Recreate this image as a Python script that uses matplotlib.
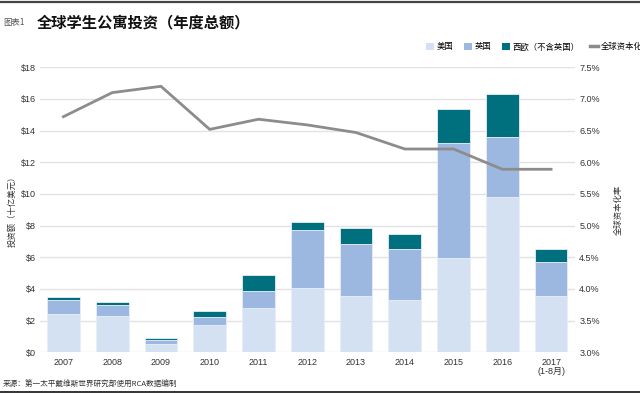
import matplotlib
matplotlib.use("Agg")
import matplotlib.pyplot as plt
import numpy as np
from matplotlib.patches import Patch
from matplotlib.lines import Line2D

plt.rcParams['font.family'] = ['Liberation Sans', 'Noto Sans CJK SC', 'DejaVu Sans']

years = ['2007', '2008', '2009', '2010', '2011', '2012', '2013', '2014', '2015', '2016', '2017\n(1-8月)']
us = [2.44, 2.31, 0.52, 1.74, 2.78, 4.08, 3.56, 3.32, 5.98, 9.81, 3.54]
uk = [0.86, 0.70, 0.26, 0.51, 1.09, 3.63, 3.30, 3.21, 7.22, 3.81, 2.15]
eu = [0.17, 0.17, 0.10, 0.36, 1.01, 0.50, 1.01, 0.94, 2.19, 2.68, 0.84]
cap_rate = [6.72, 7.10, 7.20, 6.52, 6.68, 6.59, 6.47, 6.21, 6.21, 5.89, 5.89]

series_names = ['美国', '英国', '西欧（不含英国）']
line_name = '全球资本化率'
c_us, c_uk, c_eu = '#d4e1f2', '#9db8e0', '#00707f'
c_line = '#8e8c8a'

fig = plt.figure(figsize=(6.4, 3.94), dpi=100)
ax = fig.add_axes([40/640, 1-352.3/394, (575-40)/640, (352.3-67.3)/394])
x = np.arange(len(years))
w = 0.67
us_a, uk_a, eu_a = np.array(us), np.array(uk), np.array(eu)
ax.bar(x, us_a, w, color=c_us, edgecolor='#e8eef7', linewidth=0.6, zorder=2)
ax.bar(x, uk_a, w, bottom=us_a, color=c_uk, edgecolor='#e8eef7', linewidth=0.6, zorder=2)
ax.bar(x, eu_a, w, bottom=us_a+uk_a, color=c_eu, edgecolor='#e8eef7', linewidth=0.6, zorder=2)
ax.set_xlim(-0.48, 10.49)
ax.set_ylim(0, 18)
ax.set_yticks(np.arange(0, 19, 2))
ax.set_yticklabels([f'${v}' for v in range(0, 19, 2)])
ax.grid(axis='y', color='#e2e2e2', linewidth=1.0, zorder=0)
ax.set_axisbelow(True)
for s in ax.spines.values():
    s.set_visible(False)
ax.set_xticks(x)
ax.set_xticklabels(years, fontsize=6.5, color='#333333', linespacing=0.95)
ax.tick_params(axis='both', length=0, labelsize=6.5, colors='#333333')
ax.tick_params(axis='x', pad=4)
ax.tick_params(axis='y', pad=3)
ax.set_ylabel('投资额（十亿美元）', fontsize=6, color='#333333', labelpad=3,
              family=['Noto Sans CJK SC', 'DejaVu Sans'])

ax2 = ax.twinx()
ax2.plot(x, cap_rate, color=c_line, linewidth=2.0, zorder=3)
ax2.set_ylim(3.0, 7.5)
ax2.set_yticks(np.arange(3.0, 7.51, 0.5))
ax2.set_yticklabels([f'{v:.1f}%' for v in np.arange(3.0, 7.51, 0.5)])
for s in ax2.spines.values():
    s.set_visible(False)
ax2.tick_params(axis='y', length=0, labelsize=6.5, colors='#333333', pad=3)
ax2.set_ylabel(line_name, fontsize=6, color='#333333', rotation=90, labelpad=10,
               family=['Noto Sans CJK SC', 'DejaVu Sans'])

handles = [Patch(facecolor=c_us, edgecolor='none'), Patch(facecolor=c_uk, edgecolor='none'),
           Patch(facecolor=c_eu, edgecolor='none'), Line2D([0], [0], color=c_line, lw=2.5)]
leg = fig.legend(handles, series_names + [line_name], loc='center left',
                 bbox_to_anchor=(426/640, 1-47/394), ncol=4, frameon=False,
                 handlelength=0.9, handleheight=0.9, handletextpad=0.35,
                 columnspacing=1.3, borderpad=0, borderaxespad=0,
                 prop={'family': ['Noto Sans CJK SC', 'DejaVu Sans'], 'size': 6})

fig.text(3/640, 1-22/394, '图表1', fontsize=6, color='#555555', va='center',
         family=['Noto Sans CJK SC', 'DejaVu Sans'])
fig.text(37/640, 1-22/394, '全球学生公寓投资（年度总额）', fontsize=11, fontweight='bold',
         color='#111111', va='center', family=['Noto Sans CJK SC', 'DejaVu Sans'])
fig.text(3/640, 1-385/394, '来源：第一太平戴维斯世界研究部使用RCA数据编制', fontsize=5.5,
         color='#333333', va='center', family=['Noto Sans CJK SC', 'DejaVu Sans'])
fig.add_artist(Line2D([0, 1], [1-1.8/394, 1-1.8/394], color='#444444', lw=1.6))
fig.add_artist(Line2D([0, 1], [1-391.5/394, 1-391.5/394], color='#111111', lw=1.2))

fig.savefig('out.png', dpi=100)
